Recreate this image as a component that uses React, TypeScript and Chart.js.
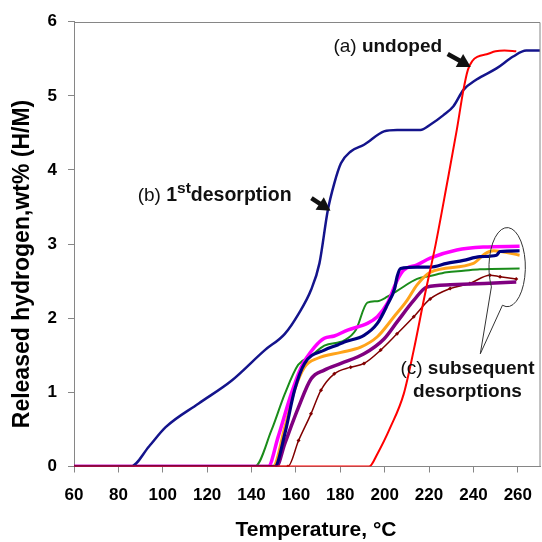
import { useEffect, useRef } from 'react';
import { Chart, registerables } from 'chart.js';

Chart.register(...registerables);

// ---- data (temperature °C, released hydrogen wt%) ----
const undopedT = [60, 193, 196.7, 202.6, 208.6, 213.1, 218, 223, 228, 232.5, 235.5, 237.5, 239.5, 242, 246, 250, 254, 259.3];
const undopedH = [0, 0, 0.17, 0.53, 0.98, 1.57, 2.3, 3.0, 3.8, 4.54, 5.08, 5.35, 5.47, 5.53, 5.56, 5.6, 5.61, 5.6];

const firstT = [60, 85.6, 93.8, 101.3, 116.2, 131.1, 146, 155, 161.2, 166.8, 170.6, 174.4, 177.3, 180.3, 184.7, 190.7, 199.7, 205.6, 216.1, 220.5, 226.5, 231, 235.5, 241.4, 250.4, 257.9, 263.8, 270];
const firstH = [0, 0, 0.27, 0.53, 0.85, 1.16, 1.57, 1.79, 2.06, 2.38, 2.74, 3.46, 3.82, 4.09, 4.25, 4.34, 4.52, 4.54, 4.54, 4.61, 4.74, 4.86, 5.08, 5.22, 5.37, 5.53, 5.61, 5.61];

const magentaT = [60, 147.5, 152, 157.9, 162.4, 168.4, 172.8, 177.3, 183.3, 192.2, 196.7, 201.2, 205.6, 208.6, 214.6, 220.5, 232.5, 244.4, 260.8];
const magentaH = [0, 0, 0.4, 0.98, 1.34, 1.61, 1.73, 1.76, 1.84, 1.93, 2.02, 2.2, 2.51, 2.65, 2.72, 2.81, 2.92, 2.96, 2.97];

const navyT = [60, 150.5, 155, 159.4, 163.9, 172.8, 178.8, 181.8, 190.7, 196.7, 201.2, 204.5, 205.6, 207.2, 214.6, 220.5, 228, 235.5, 242.9, 250.4, 251.9, 260.8];
const navyH = [0, 0, 0.44, 1.03, 1.39, 1.57, 1.64, 1.68, 1.77, 1.93, 2.18, 2.4, 2.56, 2.67, 2.69, 2.69, 2.74, 2.78, 2.83, 2.85, 2.9, 2.91];

const orangeT = [60, 149.7, 155, 159.4, 163.9, 169.8, 180.3, 189.2, 196.7, 204.2, 210.1, 214.6, 220.5, 240, 245.2, 249, 260.8];
const orangeH = [0, 0, 0.53, 1.03, 1.34, 1.46, 1.54, 1.61, 1.75, 2.02, 2.24, 2.45, 2.62, 2.74, 2.87, 2.91, 2.85];

const greenT = [60, 141.5, 149, 155, 161, 166.8, 172.8, 181.8, 187, 192.2, 196.7, 201.2, 205.6, 214.6, 220.5, 228, 235.5, 242.9, 260.8];
const greenH = [0, 0, 0.49, 0.98, 1.37, 1.49, 1.63, 1.7, 1.84, 2.21, 2.23, 2.29, 2.37, 2.53, 2.57, 2.62, 2.64, 2.66, 2.67];

const purpleT = [60, 151.2, 155, 161.2, 166.8, 172.8, 180.3, 190.7, 199.7, 205.6, 213.1, 219, 229.5, 245, 259.3];
const purpleH = [0, 0, 0.31, 0.8, 1.18, 1.3, 1.39, 1.52, 1.72, 1.95, 2.24, 2.42, 2.45, 2.47, 2.49];

const maroonT = [60, 156.4, 161.2, 166.8, 171.3, 177.3, 184.7, 190.7, 198.2, 205.6, 213.1, 220.5, 229.5, 238.4, 247.4, 252, 259.3];
const maroonH = [0, 0, 0.35, 0.71, 1.03, 1.25, 1.34, 1.39, 1.57, 1.79, 2.02, 2.26, 2.4, 2.47, 2.58, 2.56, 2.53];

const xTicks = [60, 80, 100, 120, 140, 160, 180, 200, 220, 240, 260];
const yTicks = [0, 1, 2, 3, 4, 5, 6];

const xTitle = 'Temperature, °C';
const yTitle = 'Released hydrogen,wt% (H/M)';

const FONT = "'Liberation Sans', Arial, Helvetica, sans-serif";
const AXIS_GRAY = '#868686';

type Run = { text: string; bold?: boolean; size: number; rise?: number };

function pts(t: number[], h: number[]) {
  return t.map((x, i) => ({ x, y: h[i] }));
}

function drawRuns(ctx: CanvasRenderingContext2D, x0: number, y0: number, runs: Run[], align: 'left' | 'center' = 'left') {
  const widths = runs.map((r) => {
    ctx.font = `${r.bold ? 'bold ' : ''}${r.size}px ${FONT}`;
    return ctx.measureText(r.text).width;
  });
  const total = widths.reduce((a, b) => a + b, 0);
  let cx = align === 'center' ? x0 - total / 2 : x0;
  ctx.textAlign = 'left';
  ctx.textBaseline = 'alphabetic';
  runs.forEach((r, i) => {
    ctx.font = `${r.bold ? 'bold ' : ''}${r.size}px ${FONT}`;
    ctx.fillText(r.text, cx, y0 - (r.rise || 0));
    cx += widths[i];
  });
}

function arrow(ctx: CanvasRenderingContext2D, x1: number, y1: number, x2: number, y2: number) {
  const a = Math.atan2(y2 - y1, x2 - x1);
  const head = 13;
  const half = 7.5;
  const bx = x2 - head * Math.cos(a);
  const by = y2 - head * Math.sin(a);
  ctx.lineWidth = 4.5;
  ctx.lineCap = 'butt';
  ctx.beginPath();
  ctx.moveTo(x1, y1);
  ctx.lineTo(bx + Math.cos(a), by + Math.sin(a));
  ctx.stroke();
  ctx.beginPath();
  ctx.moveTo(x2, y2);
  ctx.lineTo(bx + half * Math.sin(a), by - half * Math.cos(a));
  ctx.lineTo(bx - half * Math.sin(a), by + half * Math.cos(a));
  ctx.closePath();
  ctx.fill();
}

const annotationPlugin = {
  id: 'annotations',
  afterDraw(chart: any) {
    const { ctx, chartArea, scales } = chart;
    const X = (v: number) => scales.x.getPixelForValue(v);
    const Y = (v: number) => scales.y.getPixelForValue(v);
    ctx.save();

    // top & right plot border
    ctx.strokeStyle = AXIS_GRAY;
    ctx.lineWidth = 1;
    ctx.beginPath();
    ctx.moveTo(chartArea.left, Math.round(chartArea.top) + 0.5);
    ctx.lineTo(chartArea.right, Math.round(chartArea.top) + 0.5);
    ctx.lineTo(chartArea.right, chartArea.bottom);
    ctx.stroke();

    ctx.fillStyle = '#111';
    ctx.strokeStyle = '#111';

    // (a) undoped
    drawRuns(ctx, X(176.9), Y(5.59), [
      { text: '(a) ', size: 19 },
      { text: 'undoped', size: 19, bold: true },
    ]);
    arrow(ctx, X(228.4), Y(5.565), X(238.8), Y(5.39));

    // (b) 1st desorption
    drawRuns(ctx, X(88.7), Y(3.575), [
      { text: '(b) ', size: 19 },
      { text: '1', size: 19.5, bold: true },
      { text: 'st', size: 15.5, bold: true, rise: 8 },
      { text: 'desorption', size: 19.5, bold: true },
    ]);
    arrow(ctx, X(167.0), Y(3.62), X(175.6), Y(3.45));

    // (c) subsequent desorptions
    drawRuns(ctx, X(237.3), Y(1.25), [
      { text: '(c) ', size: 19 },
      { text: 'subsequent', size: 19, bold: true },
    ], 'center');
    drawRuns(ctx, X(237.3), Y(0.94), [{ text: 'desorptions', size: 19, bold: true }], 'center');

    // callout ellipse
    const cx = X(255.2);
    const cy = Y(2.69);
    const rx = X(255.2 + 8.2) - cx;
    const ry = Y(2.69 - 0.533) - cy;
    const a1 = (150 * Math.PI) / 180;
    const a2 = ((105 + 360) * Math.PI) / 180;
    ctx.strokeStyle = '#333';
    ctx.lineWidth = 1;
    ctx.beginPath();
    ctx.ellipse(cx, cy, rx, ry, 0, a1, a2, false);
    ctx.lineTo(X(243.1), Y(1.52));
    ctx.closePath();
    ctx.stroke();

    // axis titles
    ctx.fillStyle = '#000';
    ctx.font = `bold 21px ${FONT}`;
    ctx.textAlign = 'center';
    ctx.textBaseline = 'alphabetic';
    ctx.fillText(xTitle, 316, 536);

    ctx.save();
    ctx.translate(29, 264);
    ctx.rotate(-Math.PI / 2);
    ctx.font = `bold 23px ${FONT}`;
    ctx.fillText(yTitle, 0, 0);
    ctx.restore();

    ctx.restore();
  },
};

export default function App() {
  const ref = useRef<HTMLCanvasElement>(null);

  useEffect(() => {
    if (!ref.current) return;
    const line = (label: string, t: number[], h: number[], color: string, width: number, extra: any = {}) => ({
      label,
      data: pts(t, h),
      borderColor: color,
      backgroundColor: color,
      borderWidth: width,
      pointRadius: 0,
      cubicInterpolationMode: 'monotone',
      fill: false,
      ...extra,
    });
    const tickFont = { family: FONT, size: 17, weight: 'bold' as const };
    const chart = new Chart(ref.current, {
      type: 'line',
      data: {
        datasets: [
          line('(a) undoped', undopedT, undopedH, '#ff0000', 2),
          line('(b) 1st desorption', firstT, firstH, '#14148c', 2.5),
          line('(c) navy', navyT, navyH, '#000080', 3.2),
          line('(c) magenta', magentaT, magentaH, '#ff00ff', 3.5),
          line('(c) orange', orangeT, orangeH, '#ffa31a', 3),
          line('(c) green', greenT, greenH, '#1a8c1a', 2),
          line('(c) purple', purpleT, purpleH, '#800080', 3.5),
          line('(c) maroon', maroonT, maroonH, '#800000', 1.5, {
            pointRadius: 2,
            pointStyle: 'rectRot',
            pointBorderWidth: 0,
          }),
        ] as any,
      },
      options: {
        animation: false,
        responsive: false,
        events: [],
        layout: { padding: { left: 0, top: 21.7, right: 1, bottom: 0 } },
        plugins: { legend: { display: false }, tooltip: { enabled: false }, title: { display: false } },
        scales: {
          x: {
            type: 'linear',
            min: 60,
            max: 270,
            afterBuildTicks: (axis: any) => {
              axis.ticks = xTicks.map((v) => ({ value: v }));
            },
            afterFit: (s: any) => {
              s.height = 75.5;
              s.paddingLeft = 0;
              s.paddingRight = 0;
            },
            ticks: { font: tickFont, color: '#000', padding: 13, maxRotation: 0, autoSkip: false },
            grid: { drawOnChartArea: false, drawTicks: true, tickLength: 6, color: AXIS_GRAY },
            border: { color: AXIS_GRAY, width: 1 },
          },
          y: {
            type: 'linear',
            min: 0,
            max: 6,
            afterBuildTicks: (axis: any) => {
              axis.ticks = yTicks.map((v) => ({ value: v }));
            },
            afterFit: (s: any) => {
              s.width = 74;
              s.paddingTop = 0;
              s.paddingBottom = 0;
            },
            ticks: { font: tickFont, color: '#000', padding: 11 },
            grid: { drawOnChartArea: false, drawTicks: true, tickLength: 6, color: AXIS_GRAY },
            border: { color: AXIS_GRAY, width: 1 },
          },
        },
      } as any,
      plugins: [annotationPlugin],
    });
    return () => chart.destroy();
  }, []);

  return (
    <div style={{ position: 'fixed', left: 0, top: 0, width: 542, height: 542, overflow: 'hidden', background: '#fff' }}>
      <canvas ref={ref} width={544} height={542} style={{ display: 'block', width: 544, height: 542 }} />
    </div>
  );
}
